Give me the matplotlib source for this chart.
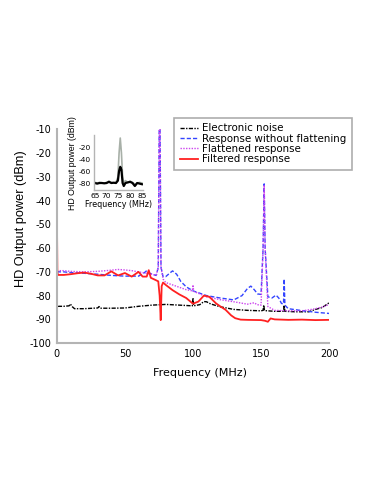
import matplotlib
matplotlib.use("Agg")
import matplotlib.pyplot as plt
import numpy as np

plt.rcParams['font.family'] = ['DejaVu Sans']
plt.rcParams['axes.unicode_minus'] = False

# ---- main chart data (frequency MHz, power dBm) ----
noise_f = [0, 0.3, 1, 5, 9, 10, 11, 13, 20, 30, 31, 32, 40, 50, 60, 70, 80, 90, 99.5, 100, 100.5,
           105, 108, 110, 113, 120, 130, 140, 150, 151.5, 152, 152.5, 160, 166.5, 167, 167.5, 175, 185, 190, 195, 200]
noise_v = [-74, -84, -84.5, -84.5, -84.3, -83.5, -84.5, -85.5, -85.5, -85.2, -84.6, -85.3, -85.3, -85.2,
           -84.5, -84, -83.7, -84, -84.3, -81, -84.3, -83.8, -82.5, -82.6, -83.5, -84.7, -85.8, -86.2, -86.4,
           -86.2, -84, -86.3, -86.6, -86.6, -84, -86.6, -86.8, -86.8, -85.8, -85, -83]

blue_f = [0, 5, 10, 20, 30, 40, 50, 60, 64, 66, 68, 70, 73, 74.5, 75.2, 75.8, 76.5, 78, 80, 83, 85, 88, 91,
          95, 100, 110, 120, 130, 136, 140, 142.5, 145, 147.5, 150, 151.5, 152.3, 153, 155, 158, 161, 163,
          165, 166.5, 167, 167.5, 170, 180, 190, 200]
blue_v = [-70, -70, -70.3, -70.6, -71, -71.5, -71.8, -71.8, -70.5, -69.5, -70.5, -71, -71.5, -68, -10, -10,
          -68, -72, -72, -70.5, -69.6, -71, -74, -76.3, -78, -80, -81, -81.8, -80, -77, -76, -77.5, -79.3,
          -79.5, -60, -33, -60, -80.5, -81, -79.8, -81, -83.3, -83.5, -73, -84, -85.5, -86.3, -87, -87.5]

flat_f = [0, 5, 10, 20, 30, 40, 45, 50, 55, 60, 65, 70, 73, 74.5, 75.2, 75.8, 76.5, 78, 80, 85, 90, 95,
          99.5, 100, 100.5, 110, 120, 130, 140, 145, 147, 150, 151.5, 152.3, 153, 155, 160, 170, 180, 185,
          190, 195, 200]
flat_v = [-69.5, -69.5, -69.8, -70, -69.8, -69.3, -69, -69.2, -69.5, -70, -70.5, -71, -71.5, -68, -10, -10,
          -68, -73, -74.5, -75.5, -76.5, -77.5, -78, -75.5, -78.2, -80.5, -81.7, -82.6, -83.6, -83, -83.8,
          -84, -60, -33.5, -60, -84.6, -86.2, -86.4, -86.4, -86, -85.5, -84.8, -83.7]

filt_f = [0, 0.4, 1, 5, 10, 15, 20, 25, 30, 35, 40, 45, 50, 55, 60, 63, 66, 67.5, 69, 72, 74.5, 75.5,
          76.3, 77, 78, 80, 85, 90, 95, 100, 104, 108, 112, 117, 120, 124, 128, 131, 135, 140, 150, 153,
          155, 157, 160, 170, 180, 190, 200]
filt_v = [-42, -70.5, -71.3, -71.3, -71, -70.6, -70.3, -70.8, -71.5, -71.5, -69.8, -71.5, -70.5, -72, -70,
          -72, -72, -69.3, -72.5, -73.3, -74, -80, -90.3, -76, -74.5, -75.5, -77.7, -79.5, -81, -83.4, -82.5,
          -80, -80.5, -83.3, -84.5, -86, -88.3, -89.5, -90.1, -90.2, -90.3, -90.6, -91, -89.6, -90, -90.2,
          -90.1, -90.3, -90.2]

# ---- inset data ----
ins_f = [65, 66, 67, 68, 69, 70, 71, 72, 73, 74, 74.8, 75.3, 75.8, 76.3, 76.8, 77.3, 78, 79, 80, 81,
         82, 83, 84, 85]
ins_gray_v = [-79, -80, -79, -79.5, -80, -79, -77, -79, -80, -79, -70, -30, -5, -30, -70, -80, -76, -79,
              -77, -79, -82, -80, -79, -80]
ins_black_v = [-80, -81, -80, -80, -80.5, -80, -78, -80, -79.5, -80, -76, -60, -53, -58, -80, -85, -80,
               -79, -78, -80, -85, -80, -81, -82]

xticks = [0, 50, 100, 150, 200]
yticks = [-100, -90, -80, -70, -60, -50, -40, -30, -20, -10]
ins_xticks = [65, 70, 75, 80, 85]
ins_yticks = [-80, -60, -40, -20]

spine_col = '#b4b4b4'
vfont = ['Liberation Sans', 'DejaVu Sans']

fig = plt.figure(figsize=(3.74, 4.84), dpi=100)
ax = fig.add_axes([0.152, 0.291, 0.728, 0.442])

ax.plot(noise_f, noise_v, color='black', lw=1.0, ls=(0, (3, 1, 1, 1)), label='Electronic noise')
ax.plot(blue_f, blue_v, color='#3344ff', lw=1.0, ls=(0, (3, 1.5)), label='Response without flattening')
ax.plot(flat_f, flat_v, color='#cc44ee', lw=1.0, ls=(0, (1, 1)), label='Flattened response')
ax.plot(filt_f, filt_v, color='#ff2020', lw=1.3, ls='-', label='Filtered response')

ax.set_xlim(0, 200)
ax.set_ylim(-100, -10)
ax.set_xticks(xticks)
ax.set_yticks(yticks)
ax.tick_params(length=0, labelsize=7.0, pad=4)
for s in ['top', 'right']:
    ax.spines[s].set_visible(False)
for s in ['left', 'bottom']:
    ax.spines[s].set_color(spine_col)
    ax.spines[s].set_linewidth(1.5)
ax.set_xlabel('Frequency (MHz)', fontsize=8.0)
ax.set_ylabel('HD Output power (dBm)', fontsize=9.2, family=vfont)
ax.xaxis.set_label_coords(0.526, -0.117)
ax.yaxis.set_label_coords(-0.111, 0.582)

leg = fig.legend(loc='upper left', bbox_to_anchor=(0.465, 0.757), fontsize=7.4, frameon=True,
                 fancybox=False, borderpad=0.55, labelspacing=0.03, handlelength=1.8,
                 handletextpad=0.35, borderaxespad=0)
leg.get_frame().set_edgecolor('#999999')
leg.get_frame().set_linewidth(1.2)

# inset
axi = fig.add_axes([0.251, 0.607, 0.131, 0.114])
axi.plot(ins_f, ins_gray_v, color='#a8b0a8', lw=1.2)
axi.plot(ins_f, ins_black_v, color='black', lw=1.6)
axi.set_xlim(64.6, 85.4)
axi.set_ylim(-92, 0)
axi.set_xticks(ins_xticks)
axi.set_yticks(ins_yticks)
axi.tick_params(length=0, labelsize=5.4, pad=2)
for s in ['top', 'right']:
    axi.spines[s].set_visible(False)
for s in ['left', 'bottom']:
    axi.spines[s].set_color(spine_col)
    axi.spines[s].set_linewidth(1.0)
axi.set_xlabel('Frequency (MHz)', fontsize=5.8, labelpad=1)
axi.set_ylabel('HD Output power (dBm)', fontsize=6.3, labelpad=1, family=vfont)

fig.savefig('out.png', dpi=100)
